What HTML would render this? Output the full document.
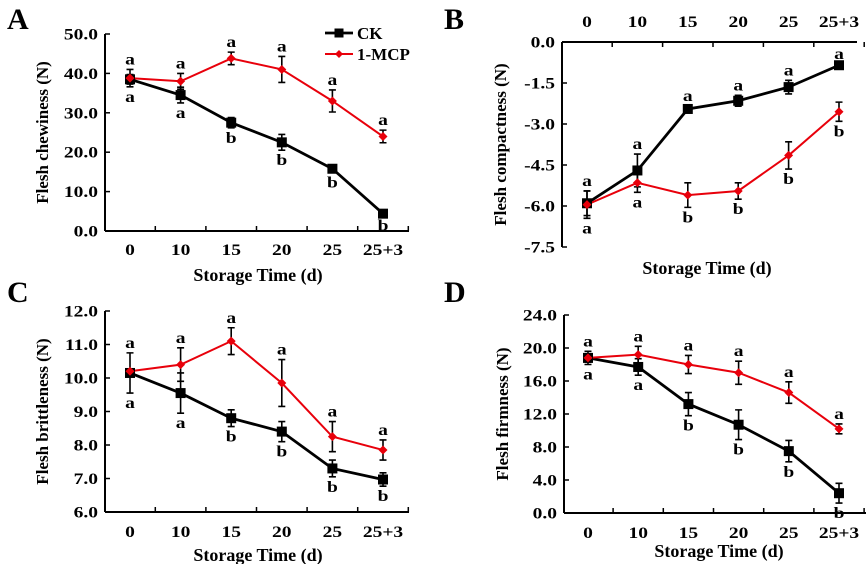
<!DOCTYPE html>
<html><head><meta charset="utf-8">
<style>
html,body{margin:0;padding:0;background:#fff;}
svg{display:block;font-family:"Liberation Serif",serif;font-weight:bold;}
</style></head>
<body>
<svg id="chart" width="868" height="564" viewBox="0 0 868 564"></svg>
<script>
const categories = ["0","10","15","20","25","25+3"];
// Panel A: chewiness
const aCK = [38.5,34.5,27.5,22.5,15.8,4.4];
const aCKErr = [1.2,2.0,1.3,2.0,1.0,0.5];
const aMCP = [38.8,38.0,43.8,41.0,33.0,24.0];
const aMCPErr = [2.2,2.0,1.6,3.3,2.8,1.6];
const aTopLetters = ["a","a","a","a","a","a"];
const aBotLetters = ["a","a","b","b","b","b"];
const aTicks = ["0.0","10.0","20.0","30.0","40.0","50.0"];
// Panel B: compactness
const bCK = [-5.9,-4.7,-2.45,-2.15,-1.65,-0.85];
const bCKErr = [0.45,0.6,0.1,0.2,0.25,0.05];
const bMCP = [-5.95,-5.15,-5.6,-5.45,-4.15,-2.55];
const bMCPErr = [0.5,0.35,0.45,0.3,0.5,0.35];
const bTopLetters = ["a","a","a","a","a","a"];
const bBotLetters = ["a","a","b","b","b","b"];
const bTicks = ["-7.5","-6.0","-4.5","-3.0","-1.5","0.0"];
// Panel C: brittleness
const cCK = [10.15,9.55,8.8,8.4,7.3,6.97];
const cCKErr = [0.6,0.6,0.25,0.3,0.25,0.2];
const cMCP = [10.2,10.4,11.1,9.85,8.25,7.85];
const cMCPErr = [0.05,0.5,0.4,0.7,0.45,0.3];
const cTopLetters = ["a","a","a","a","a","a"];
const cBotLetters = ["a","a","b","b","b","b"];
const cTicks = ["6.0","7.0","8.0","9.0","10.0","11.0","12.0"];
// Panel D: firmness
const dCK = [18.8,17.7,13.2,10.7,7.5,2.4];
const dCKErr = [0.8,1.0,1.4,1.8,1.3,1.2];
const dMCP = [18.8,19.2,18.0,17.0,14.6,10.2];
const dMCPErr = [0.5,1.0,1.1,1.4,1.3,0.6];
const dTopLetters = ["a","a","a","a","a","a"];
const dBotLetters = ["a","a","b","b","b","b"];
const dTicks = ["0.0","4.0","8.0","12.0","16.0","20.0","24.0"];

const NS = "http://www.w3.org/2000/svg";
const svg = document.getElementById("chart");
function mk(tag, attrs, parent, text){
  const e = document.createElementNS(NS, tag);
  for (const k in attrs) e.setAttribute(k, attrs[k]);
  if (text !== undefined) e.textContent = text;
  (parent||svg).appendChild(e);
  return e;
}
function wide(x, y, size, anchor, str, parent){
  return mk("text", {x:0, y:0, "font-size":size, "text-anchor":anchor, transform:`translate(${x},${y}) scale(1.22,1)`}, parent, str);
}

function panel(o){
  const g = mk("g", {});
  
  
  const ymin = parseFloat(o.ticks[0]), ymax = parseFloat(o.ticks[o.ticks.length-1]);
  const y = v => o.y0 + (v - ymin) / (ymax - ymin) * (o.y1 - o.y0);
  const step = (o.xc1 - o.xc0) / (categories.length - 1);
  const x = i => o.xc0 + i * step;
  const pl = mk("text", {x:o.lx, y:o.ly, "font-size":30}, g, o.letter);
  
  
  const xAxisY = o.top ? o.y1 : o.y0;
  const ya = mk("line", {x1:o.ax, y1:o.y0, x2:o.ax, y2:o.y1, stroke:"#000","stroke-width":2}, g);
  
  
  const xa = mk("line", {x1:o.ax, y1:xAxisY, x2:o.xend, y2:xAxisY, stroke:"#000","stroke-width":2}, g);
  
  
  o.ticks.forEach(t => {
    const v = parseFloat(t), yy = y(v);
    mk("line", {x1:o.ax, y1:yy, x2:o.ax+5, y2:yy, stroke:"#000","stroke-width":1.5}, g);
    const tl = wide(o.ax-7, yy+5.5, 16, "end", t, g);
    
    
  });
  const d = o.top ? 5 : -5;
  for (let i = 0; i < categories.length; i++) {
    const tx = x(i) + step/2;
    mk("line", {x1:tx, y1:xAxisY, x2:tx, y2:xAxisY + d, stroke:"#000","stroke-width":1.5}, g);
    const xl = wide(x(i), o.xly, 16, "middle", categories[i], g);
    
    
  }
  const xt = mk("text", {x:o.xtx, y:o.xty, "font-size":18, "text-anchor":"middle"}, g, "Storage Time (d)");
  
  
  const yt = mk("text", {x:0, y:0, "font-size":17, "text-anchor":"middle", transform:`translate(${o.ytx},${(o.y0+o.y1)/2}) rotate(-90)`}, g, o.ytitle);
  
  
  const series = [
    {v:o.ck, e:o.ckErr, color:"#000", w:2.8, name:"ck"},
    {v:o.mcp, e:o.mcpErr, color:"#e8000b", w:2, name:"mcp"}
  ];
  series.forEach(s => {
    const pts = s.v.map((v,i) => `${x(i)},${y(v)}`).join(" ");
    const pl2 = mk("polyline", {points:pts, fill:"none", stroke:s.color, "stroke-width":s.w}, g);
    
    
  });
  series.forEach(s => {
    s.v.forEach((v,i) => {
      const xx = x(i), a = y(v + s.e[i]), b = y(v - s.e[i]);
      const eb = mk("path", {d:`M${xx},${a}V${b}M${xx-3.5},${a}H${xx+3.5}M${xx-3.5},${b}H${xx+3.5}`, stroke:"#000", "stroke-width":1.6, fill:"none"}, g);
      
      
    });
  });
  series.forEach(s => {
    s.v.forEach((v,i) => {
      const xx = x(i), yy = y(v);
      let m;
      if (s.name === "ck") m = mk("rect", {x:xx-5, y:yy-5, width:10, height:10, fill:"#000"}, g);
      else m = mk("path", {d:`M${xx},${yy-4.5}L${xx+4.5},${yy}L${xx},${yy+4.5}L${xx-4.5},${yy}Z`, fill:"#e8000b"}, g);
      
      
    });
  });
  for (let i = 0; i < categories.length; i++) {
    const topV = Math.max(o.ck[i]+o.ckErr[i], o.mcp[i]+o.mcpErr[i]);
    const botV = Math.min(o.ck[i]-o.ckErr[i], o.mcp[i]-o.mcpErr[i]);
    const t1 = wide(x(i), y(topV)-5, 16, "middle", o.topL[i], g);
    
    
    const t2 = wide(x(i), y(botV)+15, 16, "middle", o.botL[i], g);
    
    
  }
}

panel({name:"panel-a", letter:"A", lx:7, ly:29, ax:105, y0:231, y1:34, xc0:130, xc1:383, xend:409,
  ticks:aTicks, xly:255, xtx:258, xty:281, ytx:48, ytitle:"Flesh chewiness (N)",
  ck:aCK, ckErr:aCKErr, mcp:aMCP, mcpErr:aMCPErr, topL:aTopLetters, botL:aBotLetters});
panel({name:"panel-b", letter:"B", lx:444, ly:29, ax:562, y0:247, y1:42, top:true, xc0:587, xc1:839, xend:857,
  ticks:bTicks, xly:27, xtx:707, xty:274, ytx:506, ytitle:"Flesh compactness (N)",
  ck:bCK, ckErr:bCKErr, mcp:bMCP, mcpErr:bMCPErr, topL:bTopLetters, botL:bBotLetters});
panel({name:"panel-c", letter:"C", lx:7, ly:302, ax:105, y0:512, y1:311, xc0:130, xc1:383, xend:409,
  ticks:cTicks, xly:537, xtx:258, xty:561, ytx:48, ytitle:"Flesh brittleness (N)",
  ck:cCK, ckErr:cCKErr, mcp:cMCP, mcpErr:cMCPErr, topL:cTopLetters, botL:cBotLetters});
panel({name:"panel-d", letter:"D", lx:444, ly:302, ax:564, y0:513, y1:315, xc0:588, xc1:839, xend:866,
  ticks:dTicks, xly:538, xtx:719, xty:557, ytx:508, ytitle:"Flesh firmness (N)",
  ck:dCK, ckErr:dCKErr, mcp:dMCP, mcpErr:dMCPErr, topL:dTopLetters, botL:dBotLetters});

const lg = mk("g", {});


const l1 = mk("g", {}, lg);


mk("line", {x1:325, y1:33, x2:353, y2:33, stroke:"#000", "stroke-width":2.8}, l1);
mk("rect", {x:334.5, y:28.5, width:9, height:9, fill:"#000"}, l1);
mk("text", {x:357, y:39, "font-size":17}, l1, "CK");
const l2 = mk("g", {}, lg);


mk("line", {x1:325, y1:54, x2:353, y2:54, stroke:"#e8000b", "stroke-width":2}, l2);
mk("path", {d:"M339,50L343,54L339,58L335,54Z", fill:"#e8000b"}, l2);
mk("text", {x:357, y:60, "font-size":17}, l2, "1-MCP");
</script>
</body></html>
